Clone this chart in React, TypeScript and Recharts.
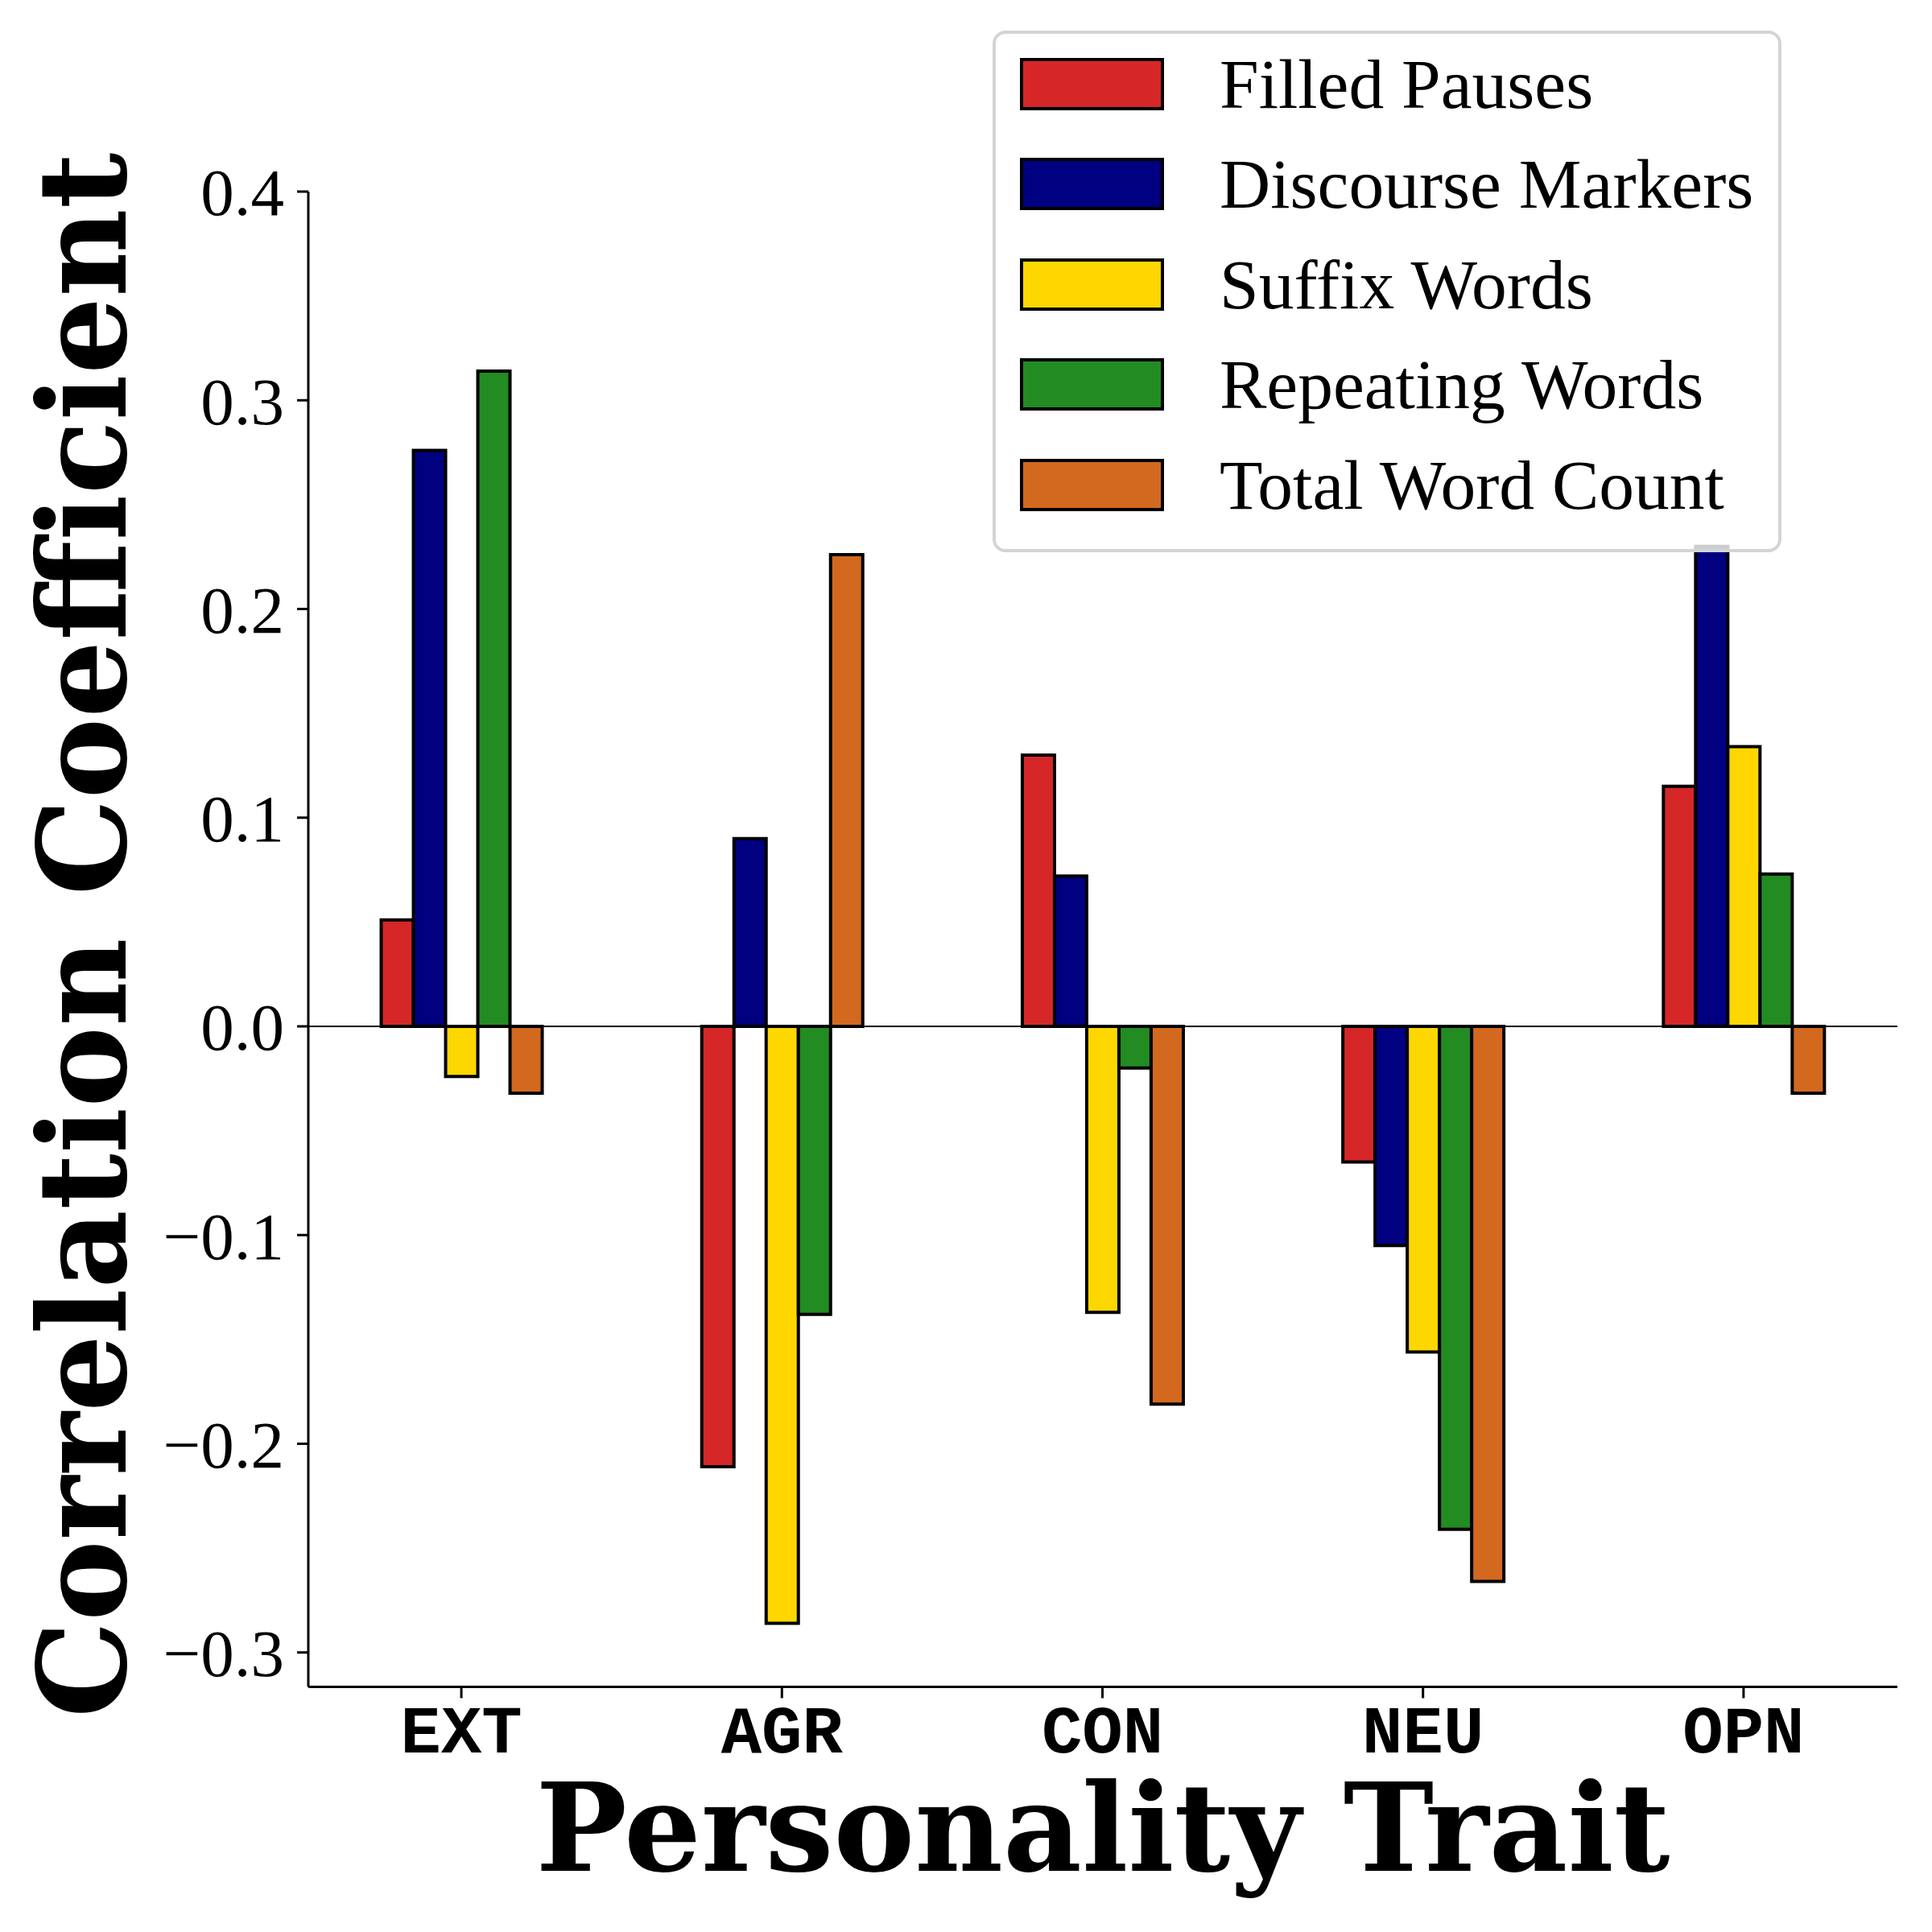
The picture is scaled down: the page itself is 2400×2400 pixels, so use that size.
import React from 'react';
import { BarChart, Bar, XAxis, YAxis, ReferenceLine, Legend } from 'recharts';

const TRAITS = ['EXT', 'AGR', 'CON', 'NEU', 'OPN'];
const FILLED_PAUSES = [0.051, -0.211, 0.130, -0.065, 0.115];
const DISCOURSE_MARKERS = [0.276, 0.090, 0.072, -0.105, 0.230];
const SUFFIX_WORDS = [-0.024, -0.286, -0.137, -0.156, 0.134];
const REPEATING_WORDS = [0.314, -0.138, -0.020, -0.241, 0.073];
const TOTAL_WORD_COUNT = [-0.032, 0.226, -0.181, -0.266, -0.032];
const Y_TICKS = [-0.3, -0.2, -0.1, 0.0, 0.1, 0.2, 0.3, 0.4];

const SERIES = [
  { key: 'fp', name: 'Filled Pauses', color: '#d62728', values: FILLED_PAUSES },
  { key: 'dm', name: 'Discourse Markers', color: '#000080', values: DISCOURSE_MARKERS },
  { key: 'sw', name: 'Suffix Words', color: '#ffd700', values: SUFFIX_WORDS },
  { key: 'rw', name: 'Repeating Words', color: '#228b22', values: REPEATING_WORDS },
  { key: 'tw', name: 'Total Word Count', color: '#d2691e', values: TOTAL_WORD_COUNT },
];

const data = TRAITS.map((t, i) => {
  const row: any = { trait: t };
  SERIES.forEach((s) => {
    row[s.key] = s.values[i];
  });
  return row;
});

const fmtY = (v: number) => {
  if (Math.abs(v) < 1e-9) return '0.0';
  return (v < 0 ? '\u2212' : '') + Math.abs(v).toFixed(1);
};

const LegendBox = () => (
  <div
    style={{
      boxSizing: 'border-box',
      width: 980,
      height: 648,
      border: '4px solid #d4d4d4',
      borderRadius: 16,
      background: 'rgba(255,255,255,0.8)',
      paddingLeft: 30,
    }}
  >
    {SERIES.map((s) => (
      <div key={s.key} style={{ display: 'flex', alignItems: 'center', height: 124.5 }}>
        <div
          style={{
            boxSizing: 'border-box',
            width: 179,
            height: 65,
            background: s.color,
            border: '4px solid #000',
            flexShrink: 0,
          }}
        />
        <span
          style={{
            marginLeft: 69,
            fontFamily: '"Liberation Serif", "Times New Roman", serif',
            fontSize: 87.5,
            color: '#000',
            whiteSpace: 'nowrap',
          }}
        >
          {s.name}
        </span>
      </div>
    ))}
  </div>
);

const YLabel = (props: any) => {
  const vb = props.viewBox || {};
  const cy = vb.y + vb.height / 2 - 5;
  const cx = 156;
  return (
    <text
      x={cx}
      y={cy}
      transform={`rotate(-90, ${cx}, ${cy})`}
      textAnchor="middle"
      fontFamily='"DejaVu Serif", serif'
      fontWeight="bold"
      fontSize={151}
      fill="#000"
    >
      Correlation Coefficient
    </text>
  );
};

const XLabel = (props: any) => {
  const vb = props.viewBox || {};
  return (
    <text
      x={vb.x + vb.width / 2}
      y={vb.y + 228.5}
      textAnchor="middle"
      fontFamily='"DejaVu Serif", serif'
      fontWeight="bold"
      fontSize={151}
      fill="#000"
    >
      Personality Trait
    </text>
  );
};

export default function App() {
  return (
    <div style={{ position: 'absolute', left: 0, top: 0, width: 2400, height: 2400, background: '#fff' }}>
      <BarChart
        width={2400}
        height={2400}
        data={data}
        margin={{ top: 238, right: 43, bottom: 0, left: 0 }}
        barCategoryGap="25%"
        barGap={0}
      >
        <XAxis
          dataKey="trait"
          height={304.5}
          padding={{ left: -9, right: -8 }}
          axisLine={{ stroke: '#000', strokeWidth: 3 }}
          tickLine={{ stroke: '#000', strokeWidth: 3 }}
          tickSize={14}
          tickMargin={8}
          tick={{
            fontFamily: '"Liberation Mono", "Courier New", monospace',
            fontWeight: 'bold',
            fontSize: 84,
            fill: '#000',
          }}
          label={<XLabel />}
        />
        <YAxis
          width={383}
          type="number"
          domain={[-0.3165, 0.4]}
          ticks={Y_TICKS}
          tickFormatter={fmtY}
          axisLine={{ stroke: '#000', strokeWidth: 3 }}
          tickLine={{ stroke: '#000', strokeWidth: 3 }}
          tickSize={14}
          tickMargin={16}
          tick={{
            fontFamily: '"Liberation Serif", "Times New Roman", serif',
            fontSize: 83,
            fill: '#000',
          }}
          label={<YLabel />}
        />
        {SERIES.map((s) => (
          <Bar
            key={s.key}
            dataKey={s.key}
            name={s.name}
            fill={s.color}
            stroke="#000"
            strokeWidth={4}
            isAnimationActive={false}
          />
        ))}
        <ReferenceLine y={0} stroke="#000" strokeWidth={2} />
        <Legend
          layout="vertical"
          align="center"
          verticalAlign="middle"
          content={<LegendBox />}
          wrapperStyle={{ position: 'absolute', left: 1233, top: 38, width: 980, height: 648, margin: 0, padding: 0 }}
        />
      </BarChart>
    </div>
  );
}
